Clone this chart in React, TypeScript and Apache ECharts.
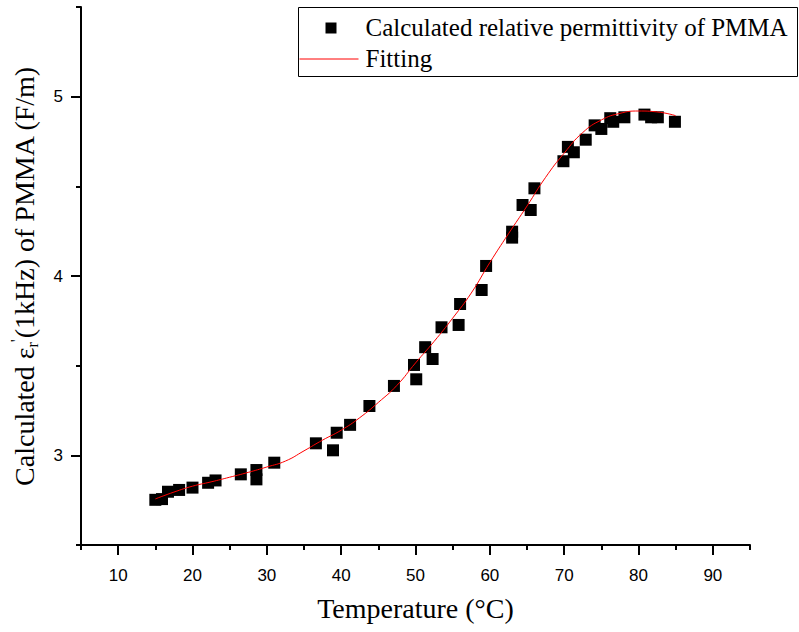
import React, { useEffect, useRef } from "react";
import * as echarts from "echarts";

// Measured relative permittivity of PMMA at 1 kHz vs temperature
const tempC = [
  15.0, 15.9, 16.7, 18.2, 20.0, 22.1, 23.1, 26.5, 28.6, 28.6, 31.0, 36.6,
  38.9, 39.4, 41.2, 43.8, 47.1, 49.8, 50.1, 51.3, 52.3, 53.5, 55.8, 56.0,
  58.9, 59.5, 63.0, 63.0, 64.4, 65.5, 66.0, 69.9, 70.5, 71.3, 72.9, 74.1,
  75.0, 76.2, 76.6, 78.1, 80.8, 81.7, 82.6, 84.9,
];
const permittivity = [
  2.752, 2.756, 2.797, 2.807, 2.82, 2.847, 2.86, 2.894, 2.918, 2.866, 2.959, 3.067,
  3.028, 3.126, 3.17, 3.275, 3.387, 3.504, 3.424, 3.603, 3.537, 3.714, 3.727, 3.844,
  3.922, 4.056, 4.247, 4.214, 4.396, 4.368, 4.489, 4.64, 4.72, 4.69, 4.76, 4.84,
  4.82, 4.88, 4.86, 4.885, 4.9, 4.885, 4.885, 4.86,
];

// Fitted curve
const fitTemp = [
  15, 17.5, 20, 22.5, 25, 27.5, 30, 32.5, 35, 37.5, 40, 42.5, 45, 47.5, 50,
  52.5, 55, 57.5, 60, 62.5, 65, 67.5, 70, 72.5, 75, 77.5, 80, 82.5, 85,
];
const fitValue = [
  2.757, 2.795, 2.828, 2.852, 2.878, 2.905, 2.935, 2.968, 3.025, 3.085, 3.14,
  3.21, 3.295, 3.39, 3.515, 3.635, 3.765, 3.905, 4.075, 4.235, 4.39, 4.55,
  4.685, 4.8, 4.87, 4.907, 4.92, 4.915, 4.894,
];

const xMajor = [10, 20, 30, 40, 50, 60, 70, 80, 90];
const xMinor = [5, 15, 25, 35, 45, 55, 65, 75, 85, 95];
const yMajor = [3, 4, 5];
const yMinor = [2.5, 3.5, 4.5, 5.5];

const legendScatter = "Calculated relative permittivity of PMMA";
const legendFit = "Fitting";

const SERIF = "'Liberation Serif', 'Times New Roman', serif";
const SANS = "'Liberation Sans', Arial, sans-serif";

export default function App() {
  const ref = useRef<HTMLDivElement>(null);

  useEffect(() => {
    document.body.style.margin = "0";
    if (!ref.current) return;
    const chart = echarts.init(ref.current, null, { renderer: "svg" });

    const axisLine = { show: true, lineStyle: { color: "#000", width: 2 } };

    chart.setOption({
      animation: false,
      backgroundColor: "#fff",
      grid: { left: 81, right: 49, top: 7, bottom: 87, containLabel: false },
      xAxis: [
        {
          type: "value",
          min: 5,
          max: 95,
          interval: 5,
          position: "bottom",
          axisLine,
          axisTick: {
            show: true,
            length: 10,
            customValues: xMajor,
            lineStyle: { color: "#000", width: 2 },
          },
          axisLabel: {
            customValues: xMajor,
            color: "#000",
            fontFamily: SANS,
            fontSize: 17,
            margin: 22,
          },
          splitLine: { show: false },
          name: "Temperature (°C)",
          nameLocation: "middle",
          nameGap: 49,
          nameTextStyle: { color: "#000", fontFamily: SERIF, fontSize: 28 },
        },
        {
          type: "value",
          min: 5,
          max: 95,
          interval: 5,
          position: "bottom",
          axisLine: { show: false },
          axisTick: {
            show: true,
            length: 5,
            customValues: xMinor,
            lineStyle: { color: "#000", width: 2 },
          },
          axisLabel: { show: false },
          splitLine: { show: false },
        },
      ],
      yAxis: [
        {
          type: "value",
          min: 2.5,
          max: 5.5,
          interval: 0.5,
          position: "left",
          axisLine,
          axisTick: {
            show: true,
            length: 10,
            customValues: yMajor,
            lineStyle: { color: "#000", width: 2 },
          },
          axisLabel: {
            customValues: yMajor,
            color: "#000",
            fontFamily: SANS,
            fontSize: 17,
            margin: 18,
          },
          splitLine: { show: false },
          name: "{t|Calculated ε}{sub|r}{sup|'}{t|(1kHz) of PMMA (F/m)}",
          nameLocation: "middle",
          nameGap: 41,
          nameTextStyle: {
            color: "#000",
            fontFamily: SERIF,
            fontSize: 28,
            lineHeight: 32,
            rich: {
              t: { fontFamily: SERIF, fontSize: 28, color: "#000", lineHeight: 32 },
              sub: {
                fontFamily: SERIF,
                fontSize: 16,
                color: "#000",
                lineHeight: 16,
                verticalAlign: "bottom",
              },
              sup: {
                fontFamily: SERIF,
                fontSize: 17,
                color: "#000",
                lineHeight: 17,
                verticalAlign: "top",
              },
            },
          },
        },
        {
          type: "value",
          min: 2.5,
          max: 5.5,
          interval: 0.5,
          position: "left",
          axisLine: { show: false },
          axisTick: {
            show: true,
            length: 5,
            customValues: yMinor,
            lineStyle: { color: "#000", width: 2 },
          },
          axisLabel: { show: false },
          splitLine: { show: false },
        },
      ],
      series: [
        {
          name: legendScatter,
          type: "scatter",
          xAxisIndex: 0,
          yAxisIndex: 0,
          symbol: "rect",
          symbolSize: 12,
          itemStyle: { color: "#000", opacity: 1 },
          data: tempC.map((t, i) => [t, permittivity[i]]),
          z: 2,
        },
        {
          name: legendFit,
          type: "line",
          xAxisIndex: 0,
          yAxisIndex: 0,
          smooth: true,
          showSymbol: false,
          symbol: "none",
          lineStyle: { color: "#ff0000", width: 1 },
          data: fitTemp.map((t, i) => [t, fitValue[i]]),
          z: 3,
        },
      ],
      graphic: [
        {
          type: "group",
          left: 297,
          top: 7,
          children: [
            {
              type: "rect",
              shape: { x: 0, y: 0, width: 499, height: 69 },
              style: { fill: "#fff", stroke: "#000", lineWidth: 1 },
            },
            {
              type: "rect",
              shape: { x: 27, y: 15, width: 11, height: 11 },
              style: { fill: "#000" },
            },
            {
              type: "line",
              shape: { x1: 1, y1: 51.5, x2: 60, y2: 51.5 },
              style: { stroke: "#ff0000", lineWidth: 1 },
            },
            {
              type: "text",
              x: 67,
              y: 20,
              style: {
                text: legendScatter,
                fontFamily: SERIF,
                fontSize: 25,
                fill: "#000",
                verticalAlign: "middle",
              },
            },
            {
              type: "text",
              x: 67,
              y: 51,
              style: {
                text: legendFit,
                fontFamily: SERIF,
                fontSize: 25,
                fill: "#000",
                verticalAlign: "middle",
              },
            },
          ],
        },
      ],
    });

    return () => chart.dispose();
  }, []);

  return <div ref={ref} style={{ width: 799, height: 632 }} />;
}
